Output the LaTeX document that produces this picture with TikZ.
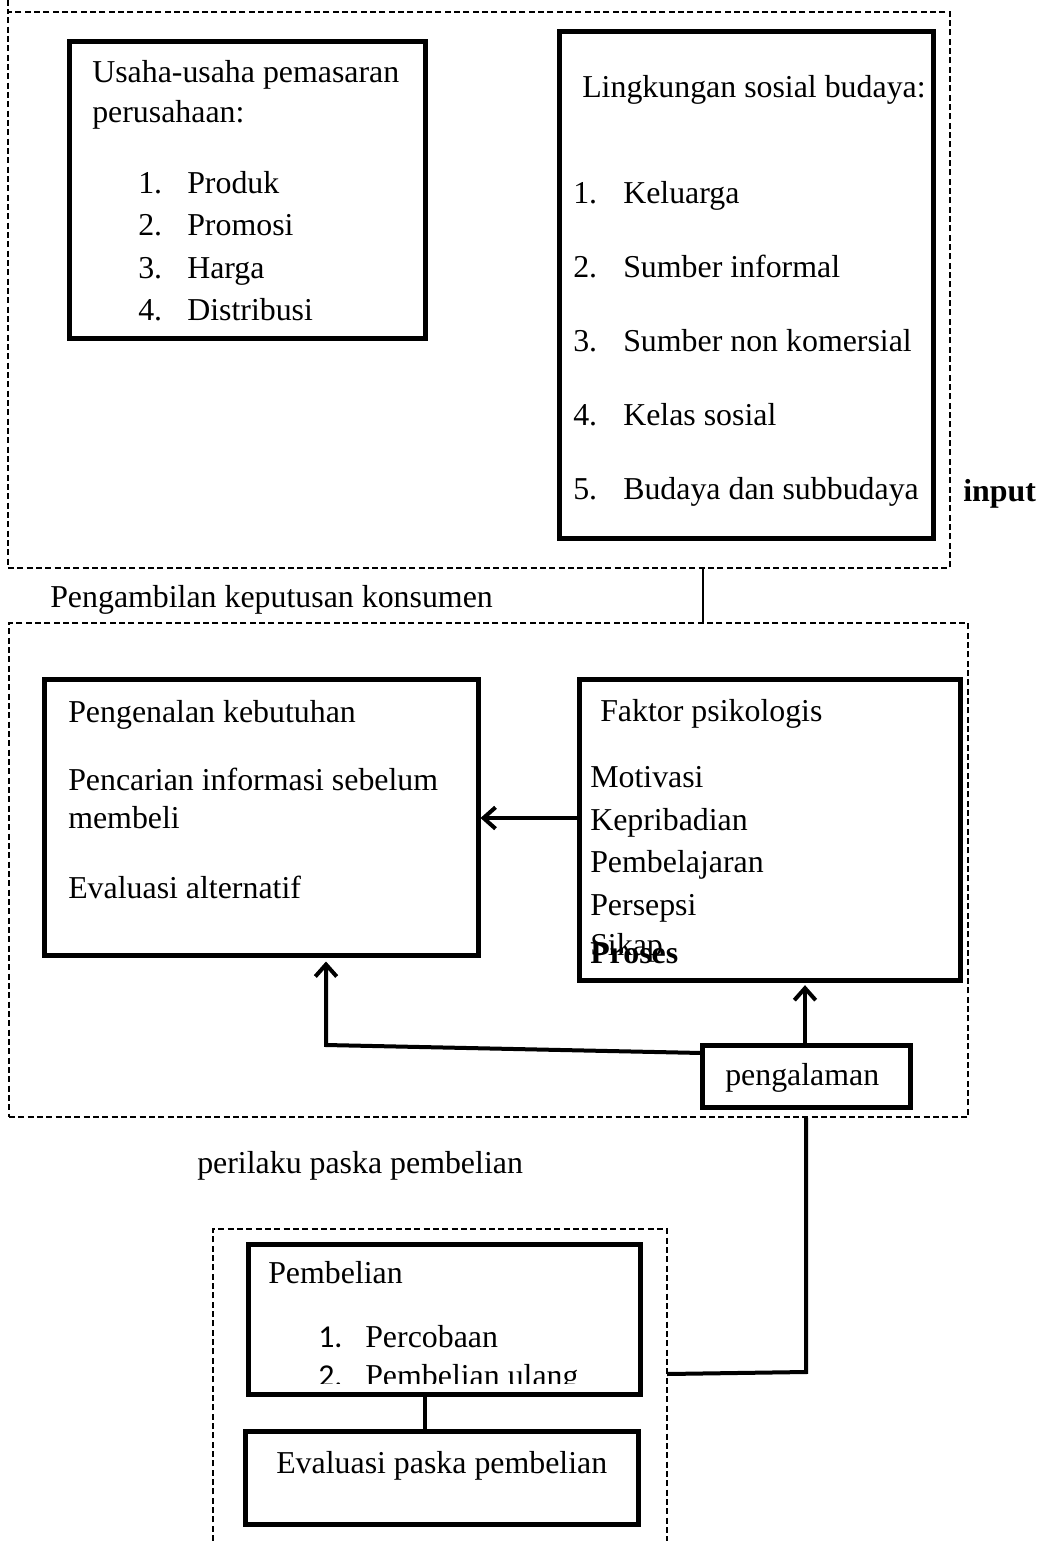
\documentclass[tikz,border=0pt]{standalone}
\usepackage{fontspec}
\setmainfont{Liberation Serif}
\newfontfamily\calibfont{Carlito}
\usetikzlibrary{arrows.meta,fit}
\begin{document}
\begin{tikzpicture}[x=0.75pt,y=-0.75pt,
  thickbox/.style={draw=black,line width=3.75pt,inner sep=0pt},
  dashbox/.style={draw=black,line width=1.3pt,dash pattern=on 4.5pt off 2.5pt,inner sep=0pt},
  dashline/.style={draw=black,line width=1.3pt,dash pattern=on 4.5pt off 2.5pt},
  txt/.style={anchor=base west,inner sep=0pt,font=\fontsize{23.9pt}{28pt}\selectfont},
  conn/.style={line width=3pt},
  thinconn/.style={line width=1.1pt},
  arr/.style={line width=3pt,-{Straight Barb[length=9pt,width=16pt,line width=3pt]}}
]
\useasboundingbox (0,0) rectangle (1043,1541);

% ---------- input block ----------
\node[dashbox,fit={(8,12)(950,568)}] (ext) {};
\draw[dashline] (8,0) -- (8,12);
\node[thickbox,fit={(69,42)(425,338)}] (usaha) {};
\node[thickbox,fit={(559,32)(933,538)}] (lingk) {};

\node[txt] (u1) at (92,83) {Usaha-usaha pemasaran};
\node[txt] (u2) at (92,123) {perusahaan:};
\node[txt] (un1) at (138,193) {1.};
\node[txt] (ui1) at (187,193) {Produk};
\node[txt] (un2) at (138,235) {2.};
\node[txt] (ui2) at (187,235) {Promosi};
\node[txt] (un3) at (138,278) {3.};
\node[txt] (ui3) at (187,278) {Harga};
\node[txt] (un4) at (138,320) {4.};
\node[txt] (ui4) at (187,320) {Distribusi};

\node[txt] (l0) at (582,98) {Lingkungan sosial budaya:};
\node[txt] (ln1) at (573,203) {1.};
\node[txt] (li1) at (623,203) {Keluarga};
\node[txt] (ln2) at (573,277) {2.};
\node[txt] (li2) at (623,277) {Sumber informal};
\node[txt] (ln3) at (573,351) {3.};
\node[txt] (li3) at (623,351) {Sumber non komersial};
\node[txt] (ln4) at (573,425) {4.};
\node[txt] (li4) at (623,425) {Kelas sosial};
\node[txt] (ln5) at (573,499) {5.};
\node[txt] (li5) at (623,499) {Budaya dan subbudaya};

\node[txt,font=\fontsize{23.9pt}{28pt}\selectfont\bfseries] (input) at (963,501) {input};

% ---------- process block ----------
\node[txt] (pk) at (50,607) {Pengambilan keputusan konsumen};
\node[dashbox,fit={(9,623)(968,1117)}] (proc) {};
\coordinate (cx) at (703,0);
\draw[thinconn] (ext.south -| cx) -- (proc.north -| cx);

\node[thickbox,fit={(44,679)(478,955)}] (kebut) {};
\node[thickbox,fit={(579,679)(960,980)}] (faktor) {};
\node[thickbox,fit={(702,1045)(910,1107)}] (pengal) {};

\node[txt] (k1) at (68,722) {Pengenalan kebutuhan};
\node[txt] (k2) at (68,790) {Pencarian informasi sebelum};
\node[txt] (k3) at (68,828) {membeli};
\node[txt] (k4) at (68,898) {Evaluasi alternatif};

\node[txt] (f0) at (600,721) {Faktor psikologis};
\node[txt] (f1) at (590,787) {Motivasi};
\node[txt] (f2) at (590,830) {Kepribadian};
\node[txt] (f3) at (590,872) {Pembelajaran};
\node[txt] (f4) at (590,915) {Persepsi};
\node[txt] (f5) at (590,955) {Sikap};
\node[txt,font=\fontsize{23.9pt}{28pt}\selectfont\bfseries] (proses) at (590,963) {Proses};

\node[txt] (pg) at (725,1085) {pengalaman};

\coordinate (ay) at (0,818);
\draw[arr] (faktor.west |- ay) -- (kebut.east |- ay);
\coordinate (px) at (805,0);
\draw[arr,shorten >=2pt] (pengal.north -| px) -- (faktor.south -| px);
\coordinate (bl) at (702,1053);
\coordinate (br) at (326,1045);
\draw[arr,shorten >=3pt] (bl) -- (br) -- (kebut.south -| br);

% ---------- post purchase block ----------
\node[txt] (pp) at (197,1173) {perilaku paska pembelian};
\draw[dashline] (213,1541) -- (213,1229) -- (667,1229) -- (667,1541);
\coordinate (pbedge) at (667,1374);
\node[thickbox,fit={(248,1244)(640,1394)}] (pemb) {};
\node[thickbox,fit={(245,1431)(638,1524)}] (evalp) {};

\node[txt] (p0) at (268,1283) {Pembelian};
\node[txt,font=\fontsize{23.9pt}{28pt}\calibfont] (pn1) at (318,1347) {1.};
\node[txt] (pi1) at (365,1347) {Percobaan};
\begin{scope}
\clip (250,1246) rectangle (638,1383);
\node[txt,font=\fontsize{23.9pt}{28pt}\calibfont] (pn2) at (318,1386) {2.};
\node[txt] (pi2) at (365,1386) {Pembelian ulang};
\end{scope}
\node[txt] (e0) at (276,1473) {Evaluasi paska pembelian};

\coordinate (vx) at (806,0);
\draw[conn] (proc.south -| vx) -- (806,1372) -- (pbedge);
\coordinate (mx) at (425,0);
\draw[conn] (pemb.south -| mx) -- (evalp.north -| mx);
\end{tikzpicture}
\end{document}
